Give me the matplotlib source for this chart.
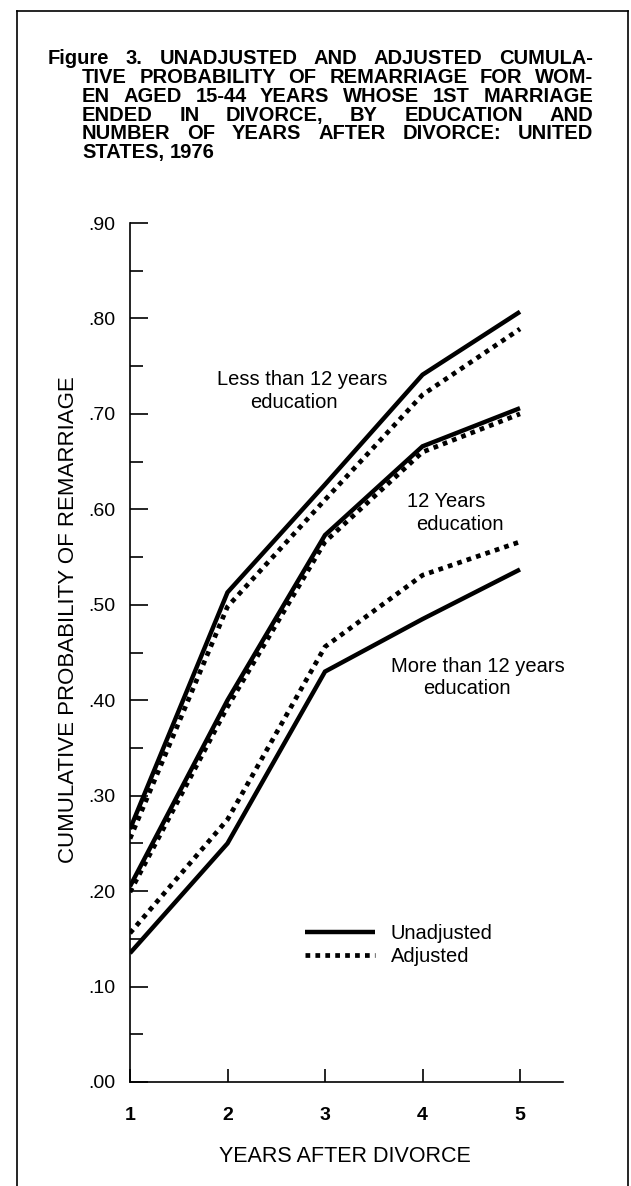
import matplotlib
matplotlib.use("Agg")
import matplotlib.pyplot as plt
from matplotlib.lines import Line2D
from matplotlib.ticker import FixedLocator, FuncFormatter

# values
years = [1, 2, 3, 4, 5]
less12_unadj = [0.265, 0.513, 0.626, 0.741, 0.807]
less12_adj = [0.255, 0.498, 0.610, 0.720, 0.789]
twelve_unadj = [0.205, 0.400, 0.573, 0.666, 0.706]
twelve_adj = [0.199, 0.393, 0.566, 0.660, 0.700]
more12_unadj = [0.135, 0.250, 0.430, 0.485, 0.537]
more12_adj = [0.156, 0.275, 0.456, 0.531, 0.566]

y_ticks = [0.0, 0.1, 0.2, 0.3, 0.4, 0.5, 0.6, 0.7, 0.8, 0.9]
y_minor = [0.05, 0.15, 0.25, 0.35, 0.45, 0.55, 0.65, 0.75, 0.85]
x_labels = ["1", "2", "3", "4", "5"]

title_lines = [
    "Figure 3. UNADJUSTED AND ADJUSTED CUMULA-",
    "TIVE PROBABILITY OF REMARRIAGE FOR WOM-",
    "EN AGED 15-44 YEARS WHOSE 1ST MARRIAGE",
    "ENDED IN DIVORCE, BY EDUCATION AND",
    "NUMBER OF YEARS AFTER DIVORCE: UNITED",
    "STATES, 1976",
]

W, H = 631, 1186


def fx(px):
    return px / W


def fy(py):
    return 1 - py / H


plt.rcParams['font.family'] = ['Liberation Sans', 'DejaVu Sans']

fig = plt.figure(figsize=(W / 100, H / 100), dpi=100)
ax = fig.add_axes([fx(130), fy(1082), fx(563) - fx(130), fy(223) - fy(1082)])

dots = (0, (1.0, 1.1))
for unadj, adj in [(less12_unadj, less12_adj), (twelve_unadj, twelve_adj), (more12_unadj, more12_adj)]:
    l_sol, = ax.plot(years, unadj, color='black', lw=3.2, solid_capstyle='butt', solid_joinstyle='miter')
    l_dot, = ax.plot(years, adj, color='black', lw=3.4, linestyle=dots, dash_capstyle='butt')
    if unadj is less12_unadj:
        h_sol, h_dot = l_sol, l_dot

ax.set_xlim(1, 1 + (563 - 130) / 97.5)
ax.set_ylim(0, 0.9)

ax.spines['top'].set_visible(False)
ax.spines['right'].set_visible(False)
ax.spines['left'].set_linewidth(1.2)
ax.spines['bottom'].set_linewidth(1.2)

ax.yaxis.set_major_locator(FixedLocator(y_ticks))
ax.yaxis.set_minor_locator(FixedLocator(y_minor))
ax.yaxis.set_major_formatter(FuncFormatter(lambda v, p: f"{v:.2f}"[1:]))
ax.tick_params(axis='y', which='major', direction='in', length=13, width=1.2, labelsize=14, pad=10.5)
ax.tick_params(axis='y', which='minor', direction='in', length=9.4, width=1.2)

ax.set_xticks(years)
ax.set_xticklabels(x_labels, fontweight='bold')
ax.tick_params(axis='x', direction='in', length=9.4, width=1.2, labelsize=14, pad=18)

ax.set_xlabel("YEARS AFTER DIVORCE", fontsize=15.5)
ax.xaxis.set_label_coords((345 - 130) / 433, (1082 - 1146) / 859)
ax.set_ylabel("CUMULATIVE PROBABILITY OF REMARRIAGE", fontsize=16)
ax.yaxis.set_label_coords((79 - 130) / 433, (1082 - 620) / 859)

# curve labels
ax.text(2.77, 0.736, "Less than 12 years", fontsize=14.5, ha='center', va='center')
ax.text(2.68, 0.712, "education", fontsize=14.5, ha='center', va='center')
ax.text(4.24, 0.608, "12 Years", fontsize=14.5, ha='center', va='center')
ax.text(4.38, 0.584, "education", fontsize=14.5, ha='center', va='center')
ax.text(4.57, 0.435, "More than 12 years", fontsize=14.5, ha='center', va='center')
ax.text(4.45, 0.412, "education", fontsize=14.5, ha='center', va='center')

ax.legend([h_sol, h_dot], ["Unadjusted", "Adjusted"], loc='upper left',
          bbox_to_anchor=((305 - 130) / 433, (1082 - 924) / 859), frameon=False,
          borderpad=0, borderaxespad=0, handlelength=3.5, handletextpad=0.75,
          labelspacing=0.2, fontsize=14.5)

# page frame
for xs, ys in [([17, 17], [11, H]), ([17, 628], [11, 11]), ([628, 628], [11, H])]:
    fig.add_artist(Line2D([fx(v) for v in xs], [fy(v) for v in ys],
                          transform=fig.transFigure, color='black', lw=1.2))

# justified title
fig.canvas.draw()
rend = fig.canvas.get_renderer()
baselines = [64, 83, 102, 121, 139, 158]
right = 593
for i, line in enumerate(title_lines):
    left = 48 if i == 0 else 82
    words = line.split()
    txts = [fig.text(0, fy(baselines[i]), w, fontsize=14.5, fontweight='bold', va='baseline')
            for w in words]
    widths = [t.get_window_extent(rend).width for t in txts]
    if i == len(title_lines) - 1:
        gap = 6
    else:
        gap = (right - left - sum(widths)) / (len(words) - 1)
    x = left
    for t, w in zip(txts, widths):
        t.set_x(fx(x))
        x += w + gap

fig.savefig("out.png", dpi=100)
